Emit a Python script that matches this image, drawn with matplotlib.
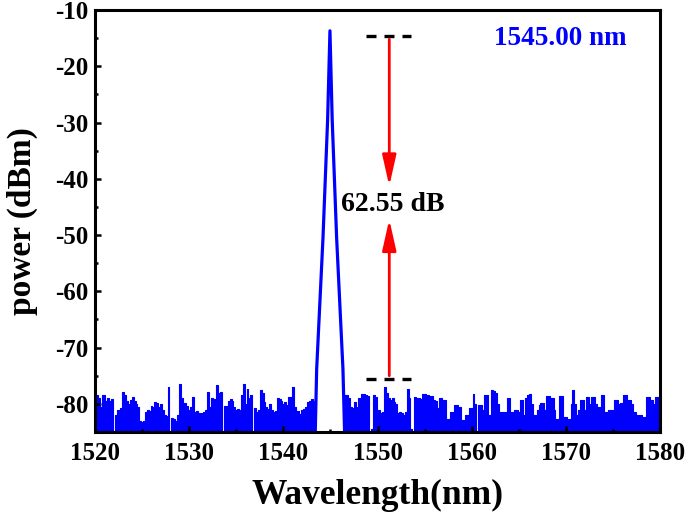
import numpy as np
import matplotlib
matplotlib.use("Agg")
import matplotlib.pyplot as plt

# ---------------- data ----------------
step = 0.2
left_start = 1520.0
noise_left = [
    -78.5, -78.5, -79.0, -80.5, -78.5, -78.5, -79.5, -79.0, -79.5, -79.2,
    -86.0, -82.0, -81.0, -81.5, -80.8, -77.9, -78.5, -79.5, -80.0, -79.3,
    -78.8, -79.5, -80.0, -80.5, -83.0, -83.2, -83.0, -81.5, -81.0, -81.3,
    -80.3, -80.5, -79.7, -79.8, -80.5, -80.0, -81.0, -82.0, -82.2, -77.0,
    -86.0, -82.5, -82.6, -83.0, -82.0, -76.4, -79.0, -80.0, -79.8, -80.3,
    -81.0, -80.5, -78.8, -81.5, -81.3, -81.6, -82.0, -81.6, -81.4, -81.0,
    -77.9, -80.5, -79.0, -79.2, -80.0, -76.7, -78.0, -77.9, -86.0, -80.3,
    -80.3, -79.5, -79.2, -79.5, -80.5, -81.0, -80.9, -81.0, -78.5, -76.4,
    -80.0, -77.3, -79.0, -78.5, -86.0, -80.8, -81.5, -81.0, -77.6, -78.0,
    -79.7, -80.5, -80.9, -80.0, -81.0, -81.5, -81.2, -79.0, -79.2, -79.5,
    -80.0, -79.7, -80.2, -78.8, -78.8, -77.0, -80.5, -81.5, -81.3, -81.8,
    -81.0, -80.9, -80.5, -79.7, -79.5, -79.2, -79.5, -80.0,
]
right_start = 1546.6
noise_right = [
    -78.45, -78.5, -79.0, -80.5, -80.8, -79.6, -80.5, -79.0, -79.2, -78.2,
    -78.3, -78.5, -78.6, -86.0, -84.4, -78.45, -78.8, -81.1, -81.0, -81.7,
    -81.5, -77.0, -78.0, -79.0, -79.3, -79.0, -79.6, -80.0, -81.7, -81.5,
    -81.7, -82.0, -81.5, -77.3, -79.0, -84.4, -86.0, -78.75, -79.0, -79.0,
    -79.2, -78.2, -78.2, -78.45, -78.45, -78.6, -78.6, -79.3, -79.5, -80.8,
    -79.0, -79.0, -79.3, -79.3, -82.6, -82.6, -81.4, -81.4, -80.2, -80.2,
    -80.5, -80.5, -82.9, -82.9, -82.0, -82.0, -80.8, -80.8, -78.2, -80.0,
    -87.0, -80.2, -80.2, -81.0, -78.5, -78.5, -82.0, -82.0, -77.6, -77.8,
    -78.0, -80.0, -81.4, -81.4, -81.4, -81.4, -79.0, -79.0, -81.4, -81.4,
    -81.1, -81.1, -81.5, -79.3, -79.3, -82.0, -79.0, -78.5, -78.2, -80.0,
    -82.0, -82.0, -81.0, -80.2, -79.9, -79.9, -81.0, -78.6, -78.6, -79.0,
    -79.0, -81.0, -82.6, -82.6, -78.6, -78.6, -82.3, -82.3, -82.6, -82.6,
    -80.0, -77.6, -80.0, -82.0, -81.0, -79.3, -79.3, -81.0, -78.8, -78.8,
    -80.0, -78.8, -78.8, -80.0, -80.5, -80.5, -78.5, -78.5, -81.4, -81.4,
    -81.0, -81.1, -81.1, -79.3, -79.3, -80.0, -79.9, -79.9, -78.5, -78.5,
    -79.3, -79.3, -80.0, -81.4, -81.4, -82.0, -82.0, -82.0, -82.3, -82.3,
    -78.8, -78.8, -79.3, -79.3, -80.0, -78.8, -78.8, -82.0,
]
peak_x = [1543.35, 1543.54, 1544.21, 1544.70, 1544.95, 1545.19, 1545.66, 1546.33, 1546.55]
peak_y = [-88.0, -73.8, -50.5, -29.6, -13.7, -29.6, -50.5, -73.8, -88.0]

top_level = -14.6
bottom_level = -75.6
marker_x = 1551.25
dash_x = [1548.78, 1553.53]
top_arrow_tip = -41.3
bottom_arrow_tip = -47.2
diff_label = "62.55 dB"
diff_label_pos = (1551.6, -44.6)
wl_label = "1545.00 nm"
wl_label_pos = (1569.4, -15.1)

xticks = [1520, 1530, 1540, 1550, 1560, 1570, 1580]
yticks = [-80, -70, -60, -50, -40, -30, -20, -10]

# ---------------- style ----------------
plt.rcParams['font.family'] = ['Liberation Serif', 'DejaVu Serif']
plt.rcParams['font.weight'] = 'bold'
plt.rcParams['axes.labelweight'] = 'bold'
plt.rcParams['axes.unicode_minus'] = False

fig = plt.figure(figsize=(6.85, 5.18), dpi=100)
ax = fig.add_axes([0.1387, 0.166, 0.8248, 0.8147])

blue = '#0000ff'
xl = left_start + step * np.arange(len(noise_left))
xr = right_start + step * np.arange(len(noise_right))
for xs, ys in ((xl, noise_left), (xr, noise_right)):
    ax.fill_between(xs, ys, -95, step='mid', color=blue, lw=0)
    ax.plot(xs, ys, drawstyle='steps-mid', color=blue, lw=0.8)
ax.plot(peak_x, peak_y, color=blue, lw=2.3)

# annotations
dash_style = (0, (3.0, 2.4))
ax.plot(dash_x, [top_level, top_level], color='black', lw=2.4, linestyle=dash_style,
        solid_capstyle='butt', dash_capstyle='butt')
ax.plot(dash_x, [bottom_level, bottom_level], color='black', lw=2.4, linestyle=dash_style,
        solid_capstyle='butt', dash_capstyle='butt')
arrow_kw = dict(arrowstyle='-|>,head_length=1.25,head_width=0.28', color='red', lw=2.0,
                mutation_scale=15, shrinkA=0, shrinkB=0)
ax.annotate('', xy=(marker_x, top_arrow_tip), xytext=(marker_x, top_level - 0.6),
            arrowprops=arrow_kw)
ax.annotate('', xy=(marker_x, bottom_arrow_tip), xytext=(marker_x, bottom_level + 0.6),
            arrowprops=arrow_kw)
ax.text(*diff_label_pos, diff_label, ha='center', va='center', fontsize=20,
        fontweight='bold', color='black')
ax.text(*wl_label_pos, wl_label, ha='center', va='center', fontsize=19.5,
        fontweight='bold', color=blue)

# axes
ax.set_xlim(1520, 1580)
ax.set_ylim(-85, -10)
ax.set_xticks(xticks)
ax.set_yticks(yticks)
ax.set_xticks(np.arange(1525, 1580, 10), minor=True)
ax.set_yticks(np.arange(-85, -10, 10), minor=True)
ax.tick_params(which='both', direction='in', width=1.8, labelsize=18)
ax.tick_params(which='major', length=4)
ax.tick_params(which='minor', length=2.5)
ax.tick_params(axis='x', pad=7)
ax.tick_params(axis='y', pad=5)
for lab in ax.get_xticklabels() + ax.get_yticklabels():
    lab.set_fontweight('bold')
for sp in ax.spines.values():
    sp.set_linewidth(2.2)

ax.set_xlabel('Wavelength(nm)', fontsize=25.5, fontweight='bold', labelpad=10)
ax.set_ylabel('power (dBm)', fontsize=24, fontweight='bold', labelpad=12)

fig.savefig('out.png', dpi=100)
